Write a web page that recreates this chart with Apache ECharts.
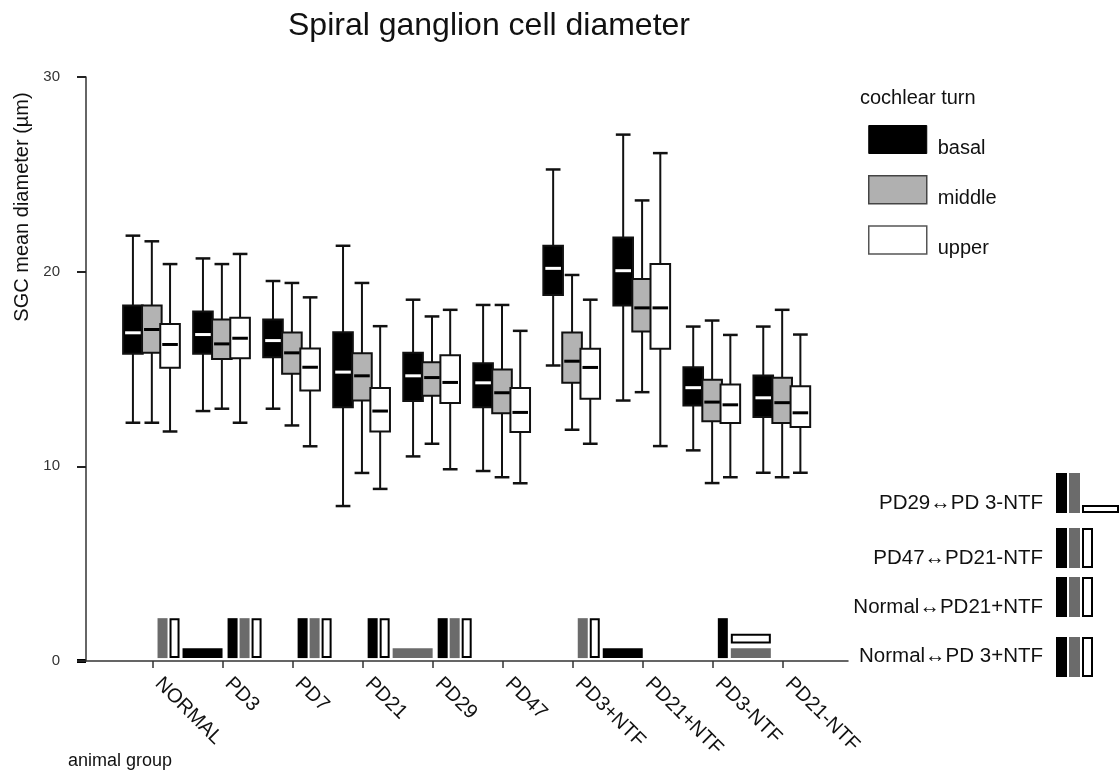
<!DOCTYPE html>
<html>
<head>
<meta charset="utf-8">
<script src="https://cdn.jsdelivr.net/npm/echarts@6/dist/echarts.min.js"></script>
<style>
  html, body { margin: 0; padding: 0; background: #fff; }
  #chart { width: 1119px; height: 784px; }
</style>
</head>
<body>
<div id="chart"></div>
<script>
// ---------------- data ----------------
const categories = ['NORMAL', 'PD3', 'PD7', 'PD21', 'PD29', 'PD47', 'PD3+NTF', 'PD21+NTF', 'PD3-NTF', 'PD21-NTF'];
const turns = ['basal', 'middle', 'upper'];

// [min, q1, median, q3, max]
const basal = [
  [12.24, 15.78, 16.86, 18.26, 21.85],
  [12.84, 15.78, 16.77, 17.96, 20.68],
  [12.96, 15.61, 16.46, 17.54, 19.52],
  [7.96, 13.04, 14.84, 16.89, 21.33],
  [10.51, 13.35, 14.65, 15.83, 18.56],
  [9.76, 13.04, 14.29, 15.30, 18.29],
  [15.18, 18.80, 20.17, 21.33, 25.25],
  [13.38, 18.26, 20.05, 21.76, 27.04],
  [10.82, 13.13, 14.04, 15.09, 17.18],
  [9.67, 12.53, 13.52, 14.67, 17.18]
];
const middle = [
  [12.24, 15.83, 17.03, 18.26, 21.56],
  [12.96, 15.52, 16.29, 17.54, 20.39],
  [12.10, 14.75, 15.83, 16.87, 19.42],
  [9.66, 13.38, 14.65, 15.81, 19.42],
  [11.16, 13.62, 14.56, 15.35, 17.70],
  [9.44, 12.73, 13.78, 14.97, 18.29],
  [11.88, 14.29, 15.40, 16.87, 19.83],
  [13.81, 16.92, 18.14, 19.62, 23.66],
  [9.14, 12.31, 13.30, 14.45, 17.49],
  [9.44, 12.22, 13.27, 14.55, 18.04]
];
const upper = [
  [11.79, 15.06, 16.26, 17.31, 20.39],
  [12.24, 15.55, 16.58, 17.63, 20.91],
  [11.03, 13.90, 15.09, 16.05, 18.68],
  [8.84, 11.79, 12.84, 14.02, 17.20],
  [9.85, 13.25, 14.31, 15.71, 18.04],
  [9.13, 11.76, 12.77, 14.02, 16.96],
  [11.16, 13.47, 15.08, 16.04, 18.56],
  [11.04, 16.04, 18.14, 20.39, 26.09],
  [9.44, 12.22, 13.16, 14.21, 16.75],
  [9.67, 12.02, 12.75, 14.12, 16.77]
];

// significance glyphs per group: 'v' = upright bar, 'h' = lying bar, '' = none
const sigBasal  = ['h', 'v', 'v', 'v', 'v', '', 'h', '', 'v', ''];
const sigMiddle = ['v', 'v', 'v', 'h', 'v', '', 'v', '', 'h', ''];
const sigUpper  = ['v', 'v', 'v', 'v', 'v', '', 'v', '', 'h', ''];

// comparison key on the right
const comparisons = ['PD29\u2194PD 3-NTF', 'PD47\u2194PD21-NTF', 'Normal\u2194PD21+NTF', 'Normal\u2194PD 3+NTF'];
const compBasal  = ['v', 'v', 'v', 'v'];
const compMiddle = ['v', 'v', 'v', 'v'];
const compUpper  = ['h', 'v', 'v', 'v'];

const yTicks = [0, 10, 20, 30];

// ---------------- styles / layout ----------------
const FONT = "'Liberation Sans', Arial, Helvetica, sans-serif";
const TURN_FILL = { basal: '#000000', middle: '#b3b3b3', upper: '#ffffff' };
const TURN_MEDIAN = { basal: '#ffffff', middle: '#000000', upper: '#000000' };
const TURN_OFFSET = { basal: -0.28, middle: -0.01, upper: 0.25 };
const SIG_FILL = { basal: '#000000', middle: '#6b6b6b', upper: '#ffffff' };
const BOX_W = 0.28, CAP_W = 0.21;

function boxRenderer(turn) {
  return function (params, api) {
    const c = api.value(0) + TURN_OFFSET[turn];
    const unit = api.size([1, 0])[0];
    const hw = BOX_W * unit / 2, cw = CAP_W * unit / 2;
    const pMin = api.coord([c, api.value(1)]);
    const pQ1 = api.coord([c, api.value(2)]);
    const pMed = api.coord([c, api.value(3)]);
    const pQ3 = api.coord([c, api.value(4)]);
    const pMax = api.coord([c, api.value(5)]);
    const x = pMin[0];
    const stroke = '#111';
    return {
      type: 'group',
      children: [
        { type: 'line', shape: { x1: x, y1: pMin[1], x2: x, y2: pMax[1] }, style: { stroke, lineWidth: 2 } },
        { type: 'line', shape: { x1: x - cw, y1: pMin[1], x2: x + cw, y2: pMin[1] }, style: { stroke, lineWidth: 2.5 } },
        { type: 'line', shape: { x1: x - cw, y1: pMax[1], x2: x + cw, y2: pMax[1] }, style: { stroke, lineWidth: 2.5 } },
        { type: 'rect', shape: { x: x - hw, y: pQ3[1], width: 2 * hw, height: pQ1[1] - pQ3[1] },
          style: { fill: TURN_FILL[turn], stroke, lineWidth: 2 } },
        { type: 'line', shape: { x1: x - hw + 2, y1: pMed[1], x2: x + hw - 2, y2: pMed[1] },
          style: { stroke: TURN_MEDIAN[turn], lineWidth: 3 } }
      ]
    };
  };
}

function barStyle(turn) {
  if (turn === 'upper') return { fill: '#fff', stroke: '#000', lineWidth: 2 };
  return { fill: SIG_FILL[turn] };
}

function sigRenderer(params, api) {
  const i = params.dataIndex;
  const states = [sigBasal[i], sigMiddle[i], sigUpper[i]];
  const base = api.coord([i, 0]);
  const y0 = api.coord([i, 0.15])[1];
  const yTop = api.coord([i, 2.2])[1];
  const unitY = api.size([0, 1])[1];
  const children = [];
  let x = base[0] + 5;
  states.forEach((s, t) => {
    if (s === 'v') {
      const turn = turns[t];
      const inset = turn === 'upper' ? 1 : 0;
      children.push({ type: 'rect', shape: { x: x + inset, y: yTop + inset, width: 10 - 2 * inset, height: y0 - yTop - 2 * inset }, style: barStyle(turn) });
      x += 12;
    }
  });
  let level = 0;
  states.forEach((s, t) => {
    if (s === 'h') {
      const turn = turns[t];
      const inset = turn === 'upper' ? 1 : 0;
      const h = 0.5 * unitY;
      const yb = y0 - level * 0.75 * unitY;
      children.push({ type: 'rect', shape: { x: x + 1 + inset, y: yb - h + inset, width: 40 - 2 * inset, height: h - 2 * inset }, style: barStyle(turn) });
      level++;
    }
  });
  return { type: 'group', children };
}

// right-hand comparison key
const KEY_ROW_TOP = [473, 528, 577, 637];
const KEY_TEXT_Y = [503, 558, 607, 656];
const keyGraphics = [];
comparisons.forEach((label, r) => {
  keyGraphics.push({
    type: 'text', x: 1043, y: KEY_TEXT_Y[r],
    style: { text: label, textAlign: 'right', textVerticalAlign: 'middle', fontSize: 20.5, fontFamily: FONT, fill: '#111' }
  });
  const states = [compBasal[r], compMiddle[r], compUpper[r]];
  let x = 1056;
  const top = KEY_ROW_TOP[r];
  states.forEach((s, t) => {
    if (s === 'v') {
      const turn = turns[t];
      const inset = turn === 'upper' ? 1 : 0;
      keyGraphics.push({ type: 'rect', shape: { x: x + inset, y: top + inset, width: 11 - 2 * inset, height: 40 - 2 * inset }, style: barStyle(turn) });
      x += 13;
    }
  });
  states.forEach((s, t) => {
    if (s === 'h') {
      const turn = turns[t];
      const inset = turn === 'upper' ? 1 : 0;
      keyGraphics.push({ type: 'rect', shape: { x: x + inset, y: top + 32 + inset, width: 37 - 2 * inset, height: 8 - 2 * inset }, style: barStyle(turn) });
    }
  });
});

const seriesData = { basal, middle, upper };
const series = turns.map(turn => ({
  name: turn,
  type: 'custom',
  renderItem: boxRenderer(turn),
  encode: { x: 0, y: [1, 2, 3, 4, 5] },
  itemStyle: { color: TURN_FILL[turn] },
  data: seriesData[turn].map((d, i) => [i].concat(d)),
  z: 3
}));
series.push({
  name: 'significance',
  type: 'custom',
  renderItem: sigRenderer,
  encode: { x: 0, y: 1 },
  data: categories.map((c, i) => [i, 0]),
  silent: true,
  z: 4
});

const chart = echarts.init(document.getElementById('chart'), null, { renderer: 'canvas' });
chart.setOption({
  animation: false,
  backgroundColor: '#fff',
  textStyle: { fontFamily: FONT },
  title: {
    text: 'Spiral ganglion cell diameter',
    left: 283, top: 5,
    textStyle: { fontSize: 32, fontWeight: 'normal', color: '#111', fontFamily: FONT }
  },
  legend: {
    orient: 'vertical', left: 868, top: 125,
    padding: 0,
    icon: 'rect', itemWidth: 58, itemHeight: 28, itemGap: 17,
    selectedMode: false,
    data: [
      { name: 'basal', itemStyle: { color: '#000', borderColor: '#000', borderWidth: 1 } },
      { name: 'middle', itemStyle: { color: '#b0b0b0', borderColor: '#444', borderWidth: 1.5 } },
      { name: 'upper', itemStyle: { color: '#fff', borderColor: '#555', borderWidth: 1.5 } }
    ],
    formatter: name => '{t|' + name + '}',
    textStyle: {
      fontSize: 20, color: '#111', fontFamily: FONT,
      rich: { t: { fontSize: 20, color: '#111', fontFamily: FONT, padding: [17, 0, 0, 6] } }
    }
  },
  grid: { left: 86, top: 77, width: 762, height: 584, outerBoundsMode: 'none', containLabel: false },
  xAxis: {
    type: 'value', min: -0.95, max: 9.93,
    axisLine: { show: true, onZero: false, lineStyle: { color: '#333', width: 1.5 } },
    axisTick: { show: true, customValues: categories.map((c, i) => i), length: 7, lineStyle: { color: '#333', width: 1.5 } },
    axisLabel: {
      customValues: categories.map((c, i) => i),
      formatter: v => categories[Math.round(v)],
      rotate: -45, fontSize: 20, color: '#111', margin: 14, padding: [0, 0, 0, 8], fontFamily: FONT
    },
    splitLine: { show: false }
  },
  yAxis: {
    type: 'value', min: yTicks[0], max: yTicks[yTicks.length - 1], interval: 10,
    axisLine: { show: true, onZero: false, lineStyle: { color: '#333', width: 1.5 } },
    axisTick: { show: true, length: 9, lineStyle: { color: '#222', width: 2 } },
    axisLabel: { fontSize: 15, color: '#333', margin: 26, fontFamily: FONT },
    splitLine: { show: false }
  },
  graphic: [
    { type: 'text', x: 22, y: 207, rotation: Math.PI / 2,
      style: { text: 'SGC mean diameter (\u00b5m)', textAlign: 'center', textVerticalAlign: 'middle', fontSize: 20, fontFamily: FONT, fill: '#111' } },
    { type: 'text', x: 68, y: 761,
      style: { text: 'animal group', textAlign: 'left', textVerticalAlign: 'middle', fontSize: 18, fontFamily: FONT, fill: '#111' } },
    { type: 'text', x: 860, y: 98,
      style: { text: 'cochlear turn', textAlign: 'left', textVerticalAlign: 'middle', fontSize: 20, fontFamily: FONT, fill: '#111' } },
    { type: 'rect', shape: { x: 77, y: 659, width: 9, height: 4 }, style: { fill: '#000' } }
  ].concat(keyGraphics),
  series
});
</script>
</body>
</html>
